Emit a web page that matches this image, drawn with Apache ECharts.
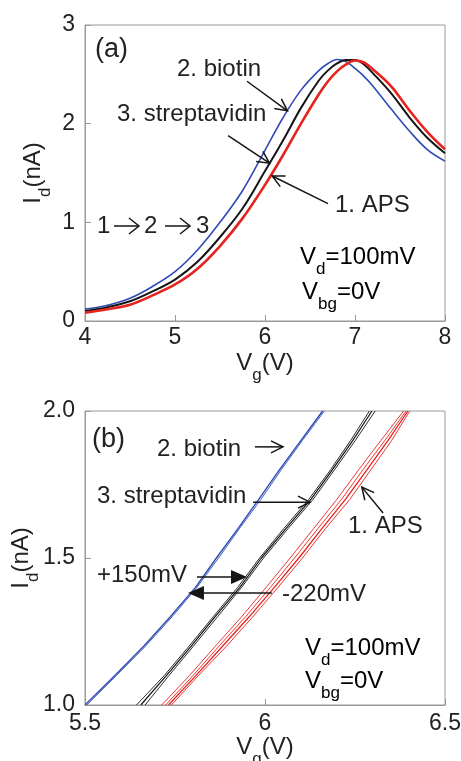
<!DOCTYPE html>
<html>
<head>
<meta charset="utf-8">
<script src="https://cdn.jsdelivr.net/npm/echarts@6/dist/echarts.min.js"></script>
<style>
  html, body { margin: 0; padding: 0; background: #fff; }
  #chart { width: 461px; height: 761px; }
</style>
</head>
<body>
<div id="chart"></div>
<script>
// ---- panel (a): full transfer curves, Id vs Vg ----
const aX     = [4, 4.25, 4.5, 4.75, 5, 5.25, 5.5, 5.75, 6, 6.2, 6.4, 6.6, 6.7, 6.8, 6.9, 7, 7.1, 7.2, 7.4, 7.6, 7.8, 8]
const aBlue  = [0.12, 0.16, 0.23, 0.35, 0.50, 0.72, 1.00, 1.32, 1.73, 2.06, 2.34, 2.54, 2.61, 2.65, 2.63, 2.56, 2.48, 2.38, 2.15, 1.93, 1.74, 1.62]
const aBlack = [0.10, 0.14, 0.20, 0.30, 0.42, 0.60, 0.85, 1.14, 1.52, 1.83, 2.16, 2.44, 2.54, 2.61, 2.645, 2.645, 2.60, 2.51, 2.31, 2.07, 1.86, 1.70]
const aRed   = [0.085, 0.12, 0.165, 0.26, 0.37, 0.53, 0.76, 1.04, 1.38, 1.68, 2.00, 2.30, 2.43, 2.53, 2.60, 2.64, 2.62, 2.55, 2.38, 2.14, 1.92, 1.74]

// ---- panel (b): zoom, Vg read at each Id level, several sweeps per step ----
const bY      = [1.0, 1.1, 1.2, 1.3, 1.4, 1.5, 1.6, 1.7, 1.8, 1.9, 2.0]
const bBlue1  = [5.500, 5.583, 5.663, 5.737, 5.807, 5.865, 5.925, 5.983, 6.040, 6.100, 6.160]
const bBlue2  = [5.505, 5.587, 5.668, 5.742, 5.811, 5.871, 5.929, 5.989, 6.045, 6.104, 6.165]
const bBlack1 = [5.643, 5.720, 5.789, 5.856, 5.924, 5.985, 6.052, 6.122, 6.182, 6.238, 6.290]
const bBlack2 = [5.655, 5.726, 5.795, 5.861, 5.930, 5.990, 6.058, 6.128, 6.187, 6.244, 6.297]
const bBlack3 = [5.667, 5.733, 5.801, 5.868, 5.935, 5.996, 6.064, 6.134, 6.193, 6.251, 6.306]
const bRed1   = [5.713, 5.790, 5.862, 5.935, 6.003, 6.070, 6.135, 6.200, 6.260, 6.322, 6.385]
const bRed2   = [5.724, 5.800, 5.872, 5.946, 6.015, 6.082, 6.147, 6.213, 6.272, 6.333, 6.392]
const bRed3   = [5.732, 5.808, 5.882, 5.956, 6.026, 6.094, 6.158, 6.224, 6.283, 6.342, 6.397]
const bRed4   = [5.740, 5.815, 5.893, 5.966, 6.036, 6.104, 6.168, 6.236, 6.294, 6.352, 6.402]

// annotation arrows, in data coordinates of each panel
const arrows = [
  { g: 0, from: [5.80, 2.43], to: [6.25, 2.13], head: 'open' },   // 2. biotin
  { g: 0, from: [5.59, 1.88], to: [6.05, 1.60], head: 'open' },   // 3. streptavidin
  { g: 0, from: [6.70, 1.19], to: [6.08, 1.47], head: 'open' },   // 1. APS
  { g: 1, from: [5.972, 1.878], to: [6.05, 1.878], head: 'open' },
  { g: 1, from: [5.967, 1.69], to: [6.125, 1.69], head: 'open' },
  { g: 1, from: [6.328, 1.653], to: [6.269, 1.741], head: 'open' },
  { g: 1, from: [5.811, 1.435], to: [5.95, 1.435], head: 'fill' },  // +150mV
  { g: 1, from: [6.019, 1.381], to: [5.786, 1.381], head: 'fill' }  // -220mV
]

const FONT = "'Liberation Sans', Arial, Helvetica, sans-serif"
const TXT = '#222'
const BLUE = '#2f4bb5'
const BLACK = '#151515'
const RED = '#e5231f'
const FRAME = '#9a9a9a'

// subscript: the tall padded token pushes the small text below the baseline
const richSub = {
  m: { fontFamily: FONT, fontSize: 24, lineHeight: 24, color: TXT },
  s: { fontFamily: FONT, fontSize: 17, lineHeight: 17, padding: [24, 0, 0, 0], color: TXT }
}

const pairsX = (xs, ys) => xs.map((x, i) => [x, ys[i]])
const pairsY = (xs) => xs.map((x, i) => [x, bY[i]])

const chart = echarts.init(document.getElementById('chart'), null, { renderer: 'canvas' })

const axisCommon = {
  axisLine: { show: true, lineStyle: { color: FRAME, width: 1 } },
  axisTick: { show: true, inside: true, length: 6, lineStyle: { color: FRAME } },
  splitLine: { show: false },
  axisLabel: { fontFamily: FONT, fontSize: 23, color: TXT },
  nameLocation: 'middle',
  nameMoveOverlap: false,
  nameTextStyle: { rich: richSub }
}

const lineA = (name, ys, color, width) => ({
  name, type: 'line', xAxisIndex: 0, yAxisIndex: 0,
  data: pairsX(aX, ys), smooth: 0.35, showSymbol: false, animation: false,
  lineStyle: { color, width }, z: 3
})
const lineB = (name, xs, color, width) => ({
  name, type: 'line', xAxisIndex: 1, yAxisIndex: 1,
  data: pairsY(xs), smooth: false, showSymbol: false, animation: false,
  lineStyle: { color, width }, z: 3
})

chart.setOption({
  animation: false,
  backgroundColor: '#fff',
  grid: [
    { left: 85, top: 25, width: 360, height: 296, show: true, borderColor: FRAME, borderWidth: 1, outerBoundsMode: 'none' },
    { left: 85, top: 411, width: 360, height: 294, show: true, borderColor: FRAME, borderWidth: 1, outerBoundsMode: 'none' }
  ],
  xAxis: [
    {
      ...axisCommon, type: 'value', gridIndex: 0, min: 4, max: 8, interval: 1,
      axisLabel: { ...axisCommon.axisLabel, margin: 5 },
      name: '{m|V}{s|g}{m|(V)}', nameGap: 30
    },
    {
      ...axisCommon, type: 'value', gridIndex: 1, min: 5.5, max: 6.5, interval: 0.5,
      axisLabel: { ...axisCommon.axisLabel, margin: 7, formatter: v => String(v) },
      name: '{m|V}{s|g}{m|(V)}', nameGap: 30
    }
  ],
  yAxis: [
    {
      ...axisCommon, type: 'value', gridIndex: 0, min: 0, max: 3, interval: 1,
      axisLabel: { ...axisCommon.axisLabel, margin: 10 },
      name: '{m|I}{s|d}{m|(nA)}', nameGap: 40, nameRotate: 90
    },
    {
      ...axisCommon, type: 'value', gridIndex: 1, min: 1.0, max: 2.0, interval: 0.5,
      axisLabel: { ...axisCommon.axisLabel, margin: 10, formatter: v => v.toFixed(1) },
      name: '{m|I}{s|d}{m|(nA)}', nameGap: 52, nameRotate: 90
    }
  ],
  series: [
    lineA('biotin', aBlue, BLUE, 1.6),
    lineA('streptavidin', aBlack, BLACK, 2),
    lineA('APS', aRed, RED, 2.6),
    lineB('biotin 1', bBlue1, BLUE, 1.4),
    lineB('biotin 2', bBlue2, BLUE, 0.9),
    lineB('strept 1', bBlack1, BLACK, 0.9),
    lineB('strept 2', bBlack2, BLACK, 1.2),
    lineB('strept 3', bBlack3, BLACK, 0.9),
    lineB('APS 1', bRed1, RED, 0.9),
    lineB('APS 2', bRed2, RED, 0.9),
    lineB('APS 3', bRed3, RED, 1.3),
    lineB('APS 4', bRed4, RED, 0.9)
  ]
})

// ---- annotations ----
const label = (text, x, y, size) => ({
  type: 'text', z: 10, silent: true,
  style: { text, x, y, fill: TXT, font: `${size || 24}px ${FONT}`, verticalAlign: 'middle', align: 'left' }
})
const subLabel = (text, x, y) => ({
  type: 'text', z: 10, silent: true,
  style: { text, x, y, rich: richSub, verticalAlign: 'top', align: 'left' }
})

function headEls(p0, p1, head, L, W) {
  const ang = Math.atan2(p1[1] - p0[1], p1[0] - p0[0])
  const bx = p1[0] - L * Math.cos(ang), by = p1[1] - L * Math.sin(ang)
  const nx = -Math.sin(ang) * W, ny = Math.cos(ang) * W
  const left = [bx + nx, by + ny], right = [bx - nx, by - ny]
  const end = head === 'fill' ? [bx, by] : p1
  const els = [{
    type: 'line', z: 10, silent: true,
    shape: { x1: p0[0], y1: p0[1], x2: end[0], y2: end[1] },
    style: { stroke: BLACK, lineWidth: 1.5 }
  }]
  if (head === 'fill') {
    els.push({ type: 'polygon', z: 10, silent: true, shape: { points: [p1, left, right] }, style: { fill: BLACK } })
  } else {
    els.push({ type: 'polyline', z: 10, silent: true, shape: { points: [left, p1, right] }, style: { stroke: BLACK, lineWidth: 1.5, fill: null } })
  }
  return els
}

function arrowEls(a) {
  const p0 = chart.convertToPixel({ gridIndex: a.g }, a.from)
  const p1 = chart.convertToPixel({ gridIndex: a.g }, a.to)
  return a.head === 'fill' ? headEls(p0, p1, 'fill', 16, 7) : headEls(p0, p1, 'open', 12, 6)
}

const graphics = [
  label('(a)', 95, 50, 27),
  label('2. biotin', 177, 69),
  label('3. streptavidin', 117, 114),
  label('1. APS', 335, 205),
  label('1', 97, 226),
  label('2', 144, 226),
  label('3', 196, 226),
  ...headEls([114, 226], [139, 226], 'open', 10, 8),
  ...headEls([165, 226], [190, 226], 'open', 10, 8),
  subLabel('{m|V}{s|d}{m|=100mV}', 300, 245),
  subLabel('{m|V}{s|bg}{m|=0V}', 302, 280),

  label('(b)', 92, 440, 27),
  label('2. biotin', 157, 449),
  label('3. streptavidin', 97, 496),
  label('1. APS', 348, 526),
  label('+150mV', 97, 575),
  label('-220mV', 282, 594),
  subLabel('{m|V}{s|d}{m|=100mV}', 305, 636),
  subLabel('{m|V}{s|bg}{m|=0V}', 305, 669)
]
arrows.forEach(a => graphics.push(...arrowEls(a)))

chart.setOption({ graphic: graphics })
</script>
</body>
</html>
